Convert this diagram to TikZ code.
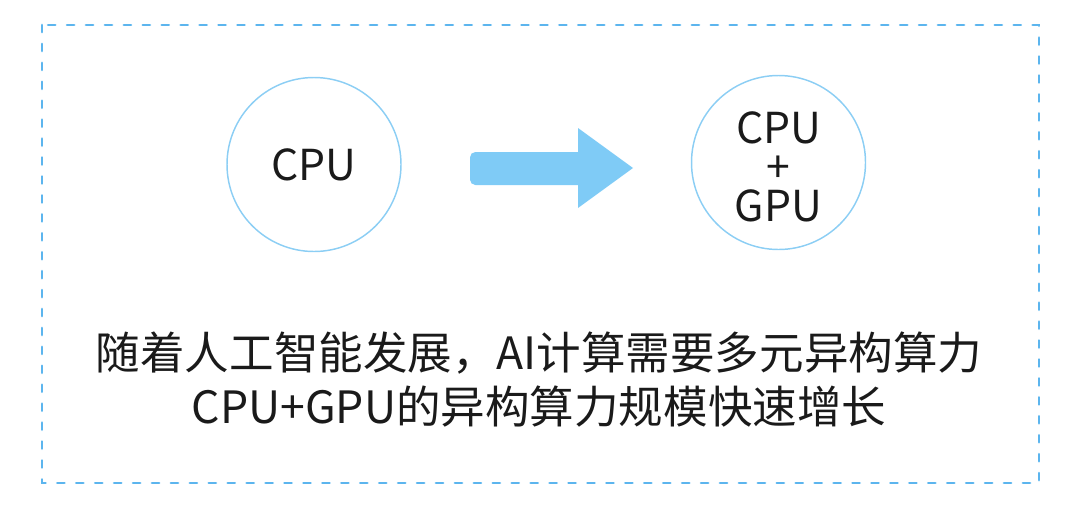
\documentclass[tikz,border=0pt]{standalone}
\usepackage{fontspec}
\setmainfont{Noto Sans CJK SC}
\usepackage{tikz}
\usetikzlibrary{positioning,calc}
\definecolor{frameblue}{HTML}{5CB5EE}
\definecolor{ringblue}{HTML}{8CCEF4}
\definecolor{arrowblue}{HTML}{7FCBF6}
\definecolor{ink}{HTML}{1A1A1A}

\begin{document}
\begin{tikzpicture}[x=0.75pt,y=-0.75pt,
  chip/.style={circle,draw=ringblue,line width=1.1pt,minimum size=130.5pt,inner sep=0pt},
  chiptext/.style={text=ink,align=center,inner sep=0pt,font=\fontsize{32}{29.5}\selectfont}]
 \useasboundingbox (0,0) rectangle (1080,522);
 \draw[frameblue,line width=2.1pt,line cap=round,dash pattern=on 5.3pt off 8.9pt] (42,25) rectangle (1039,483);
 \node[chip] (cpu) at (314,164.5) {};
 \node[chiptext] (cputext) at ([yshift=-0.6pt]cpu.center) {CPU};
 \node[chip] (mix) at (778.5,162.5) {};
 \node[chiptext] (mixtext) at ([yshift=-3.2pt]mix.center) {CPU\\+\\GPU};
 \fill[arrowblue] (578,152) -- (578,128) -- (633,168) -- (578,208) -- (578,185)
   [rounded corners=4pt] -- (470,185) -- (470,152) [sharp corners] -- cycle;
 \node[text=ink,align=center,font=\fontsize{33.4}{40.5}\selectfont] (note) at (539,380)
   {随着人工智能发展，AI计算需要多元异构算力\\CPU+GPU的异构算力规模快速增长};
\end{tikzpicture}
\end{document}
